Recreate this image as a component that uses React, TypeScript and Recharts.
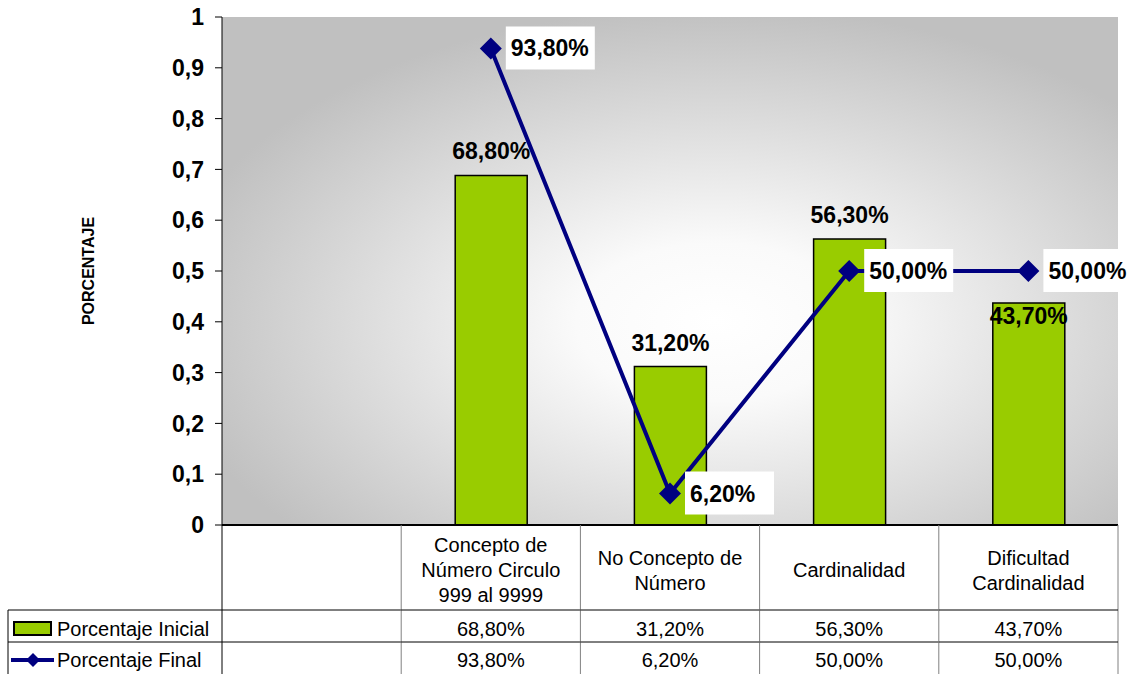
import React from 'react';
import { ComposedChart, Bar, Line, XAxis, YAxis, CartesianGrid, LabelList } from 'recharts';

const categories = ['', 'Concepto de\nNúmero Circulo\n999 al 9999', 'No Concepto de\nNúmero', 'Cardinalidad', 'Dificultad\nCardinalidad'];
const inicial = [null, 0.688, 0.312, 0.563, 0.437];
const final = [null, 0.938, 0.062, 0.5, 0.5];
const yTicks = [0, 0.1, 0.2, 0.3, 0.4, 0.5, 0.6, 0.7, 0.8, 0.9, 1];

const data = categories.map((name, i) => ({ name, ini: inicial[i], fin: final[i] }));

const FONT = '"Liberation Sans", Arial, sans-serif';
const GREEN = '#99CC00';
const NAVY = '#000080';
const BAND = (1118 - 222) / categories.length;

const pct = (v: any) => (v == null ? '' : (v * 100).toFixed(2).replace('.', ',') + '%');

function TableTick(props: any) {
  const { x, y, payload, index } = props;
  const i = payload?.index ?? index;
  const left = x - BAND / 2;
  const right = x + BAND / 2;
  const lines = String(payload.value).split('\n');
  const r1 = y + 85;
  const r2 = y + 117;
  return (
    <g>
      <line x1={left} y1={y} x2={left} y2={y + 149} stroke={i === 0 ? '#000' : '#808080'} />
      {i === categories.length - 1 && <line x1={right} y1={y} x2={right} y2={y + 149} stroke="#808080" />}
      {lines.map((t, k) => (
        <text key={k} x={x} y={y + 52 + (k - (lines.length - 1) / 2) * 25} textAnchor="middle" fontFamily={FONT} fontSize={20} fill="#000">{t}</text>
      ))}
      <text x={x} y={r1 + 26} textAnchor="middle" fontFamily={FONT} fontSize={20} fill="#000">{pct(inicial[i])}</text>
      <text x={x} y={r2 + 25} textAnchor="middle" fontFamily={FONT} fontSize={20} fill="#000">{pct(final[i])}</text>
      <line x1={i === 0 ? 8 : left} y1={r1} x2={right} y2={r1} stroke="#000" />
      <line x1={i === 0 ? 8 : left} y1={r2} x2={right} y2={r2} stroke="#000" />
      {i === 0 && (
        <g>
          <line x1={8} y1={r1} x2={8} y2={y + 149} stroke="#000" />
          <rect x={14} y={r1 + 12} width={37} height={13} fill={GREEN} stroke="#000" strokeWidth={2} />
          <text x={57} y={r1 + 26} fontFamily={FONT} fontSize={20} fill="#000">Porcentaje Inicial</text>
          <line x1={11} y1={r2 + 18} x2={54} y2={r2 + 18} stroke={NAVY} strokeWidth={4} />
          <polygon points={`${33},${r2 + 11} ${40},${r2 + 18} ${33},${r2 + 25} ${26},${r2 + 18}`} fill={NAVY} />
          <text x={57} y={r2 + 25} fontFamily={FONT} fontSize={20} fill="#000">Porcentaje Final</text>
        </g>
      )}
    </g>
  );
}

function Diamond(props: any) {
  const { cx, cy, value } = props;
  if (value == null || cx == null || cy == null) return null;
  return <polygon points={`${cx},${cy - 11} ${cx + 11},${cy} ${cx},${cy + 11} ${cx - 11},${cy}`} fill={NAVY} />;
}

function FinalLabel(props: any) {
  const { x, y, value } = props;
  if (value == null) return null;
  return (
    <g>
      <rect x={x + 15} y={y - 22} width={89} height={43} fill="#fff" />
      <text x={x + 20} y={y + 8} fontFamily={FONT} fontSize={23} fontWeight="bold" fill="#000">{pct(value)}</text>
    </g>
  );
}

// bar label above the bar, pushed below the line label when they would collide
function InicialLabel(props: any) {
  const vb = props.viewBox || props;
  const { value, index } = props;
  if (value == null || !vb || vb.height == null) return null;
  const cx = vb.x + vb.width / 2;
  const bottom = vb.y + vb.height;
  const perUnit = vb.height / value;
  const fin = final[index];
  let base = vb.y - 16;
  if (fin != null) {
    const ly = bottom - fin * perUnit;
    const top = ly - 22;
    const bot = ly + 21;
    if (base > top && base - 23 < bot) base = ly + 53;
  }
  return (
    <text x={cx} y={base} textAnchor="middle" fontFamily={FONT} fontSize={23} fontWeight="bold" fill="#000">{pct(value)}</text>
  );
}

export default function App() {
  return (
    <div style={{ position: 'absolute', left: 0, top: 0 }}>
      <ComposedChart width={1135} height={674} data={data} margin={{ top: 17, right: 17, left: 0, bottom: 0 }}>
        <defs>
          <radialGradient id="bg" cx="0.55" cy="0.6" r="0.62">
            <stop offset="0%" stopColor="#ffffff" />
            <stop offset="25%" stopColor="#fafafa" />
            <stop offset="100%" stopColor="#c0c0c0" />
          </radialGradient>
        </defs>
        <CartesianGrid fill="url(#bg)" horizontal={false} vertical={false} />
        <XAxis
          dataKey="name"
          height={149}
          interval={0}
          tickLine={false}
          tickSize={0}
          tickMargin={0}
          axisLine={{ stroke: '#000', strokeWidth: 2 }}
          tick={<TableTick />}
        />
        <XAxis xAxisId="top" orientation="top" dataKey="name" height={0} tick={false} tickLine={false} axisLine={{ stroke: '#808080' }} />
        <YAxis
          width={222}
          domain={[0, 1]}
          ticks={yTicks}
          interval={0}
          tickSize={7}
          tickMargin={11}
          axisLine={{ stroke: '#000' }}
          tickLine={{ stroke: '#000' }}
          tickFormatter={(v: number) => String(v).replace('.', ',')}
          tick={{ fontFamily: FONT, fontSize: 23, fontWeight: 'bold', fill: '#000' }}
          label={({ viewBox }: any) => (
            <text x={88} y={viewBox.y + viewBox.height / 2} dy={6} transform={`rotate(-90 88 ${viewBox.y + viewBox.height / 2})`} textAnchor="middle" fontFamily={FONT} fontSize={16} fontWeight="bold" fill="#000">PORCENTAJE</text>
          )}
        />
        <YAxis yAxisId="right" orientation="right" width={0} tick={false} tickLine={false} axisLine={{ stroke: '#808080' }} />
        <Bar dataKey="ini" barSize={72} fill={GREEN} stroke="#000" strokeWidth={1.5} isAnimationActive={false}>
          <LabelList dataKey="ini" content={<InicialLabel />} />
        </Bar>
        <Line dataKey="fin" stroke={NAVY} strokeWidth={4} dot={<Diamond />} activeDot={false} isAnimationActive={false}>
          <LabelList dataKey="fin" content={<FinalLabel />} />
        </Line>
      </ComposedChart>
    </div>
  );
}
